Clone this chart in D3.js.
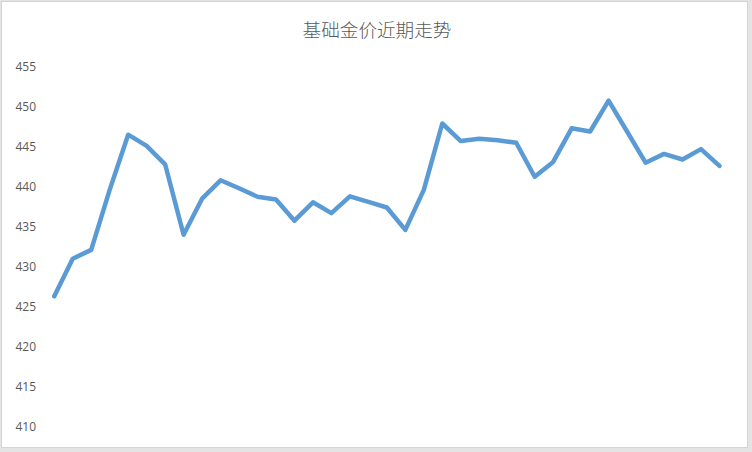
<!DOCTYPE html>
<html lang="zh">
<head>
    <meta charset="UTF-8">
    <title>基础金价近期走势</title>
    <script src="https://cdn.jsdelivr.net/npm/d3@7/dist/d3.min.js"></script>
    <style>
        body { margin: 0; background: #fff; }
    </style>
</head>
<body>
<script>

    var width = 752;
    var height = 452;

    // 数据：37 个观测点（横轴无标签）
    var titleText = '基础金价近期走势';
    var days = d3.range(1, 38);
    var prices = [
        426.3, 431.0, 432.1, 439.6, 446.5, 445.1, 442.8, 434.0, 438.5, 440.8,
        439.8, 438.75, 438.4, 435.75, 438.05, 436.7, 438.8, 438.1, 437.4, 434.6,
        439.6, 447.9, 445.7, 446.0, 445.8, 445.5, 441.25, 443.1, 447.3, 446.9,
        450.75, 446.9, 443.0, 444.1, 443.4, 444.7, 442.6
    ];
    var yTicks = [410, 415, 420, 425, 430, 435, 440, 445, 450, 455];

    var svg = d3.select('body')
        .append('svg')
        .attr('width', width)
        .attr('height', height)

    // 背景和边框
    svg.append('rect')
        .attr('width', width)
        .attr('height', height)
        .attr('fill', '#e4e4e4');
    svg.append('rect')
        .attr('x', 1.5)
        .attr('y', 1.5)
        .attr('width', 746)
        .attr('height', 446)
        .attr('fill', '#fff')
        .attr('stroke', '#d4d4d4')
        .attr('stroke-width', 1);

    var x = d3.scalePoint()
        .domain(days)
        .range([45, 728.7])
        .padding(0.5);

    var y = d3.scaleLinear()
        .domain([410, 455])
        .range([426.7, 66.7]);

    // 标题
    svg.append('text')
        .attr('x', 377)
        .attr('y', 37)
        .attr('text-anchor', 'middle')
        .attr('font-family', '"Noto Sans CJK SC", sans-serif')
        .attr('font-weight', 300)
        .attr('font-size', '18.6px')
        .attr('fill', '#595959')
        .text(titleText);

    // 纵轴
    var yAxis = d3.axisLeft(y)
        .tickValues(yTicks)
        .tickSize(0)
        .tickPadding(0);

    var gy = svg.append('g')
        .attr('transform', 'translate(36,0)')
        .call(yAxis);
    gy.select('.domain').remove();
    gy.selectAll('text')
        .attr('font-family', '"Open Sans", sans-serif')
        .attr('font-size', '12px')
        .attr('fill', '#595959');

    // 折线
    var line = d3.line()
        .x(function (d, i) { return x(days[i]); })
        .y(function (d) { return y(d); });

    svg.append('path')
        .datum(prices)
        .attr('d', line)
        .attr('fill', 'none')
        .attr('stroke', '#5B9BD5')
        .attr('stroke-width', 4.5)
        .attr('stroke-linejoin', 'round')
        .attr('stroke-linecap', 'round');

</script>
</body>
</html>
